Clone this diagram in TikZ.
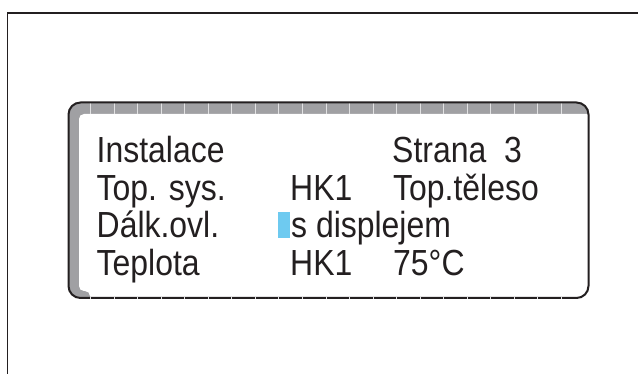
\documentclass[tikz,border=0pt]{standalone}
\usepackage{fontspec}
\setmainfont[FakeStretch=0.88]{Liberation Sans}
\definecolor{lcdgray}{RGB}{160,160,163}
\definecolor{inkdark}{RGB}{35,31,32}
\definecolor{cursorblue}{RGB}{110,202,240}

\begin{document}
\begin{tikzpicture}[x=1pt,y=1pt,
  lcd text/.style={anchor=base west,inner sep=0pt,text=inkdark,font=\fontsize{36.3}{40}\selectfont},
  tick mark/.style={white!70!lcdgray,line width=0.6pt}]

  \useasboundingbox (0,0) rectangle (638,374);
  % outer frame
  \draw[inkdark,line width=1.5pt] (7.5,0) |- (638,361);

  % display
  \begin{scope}
    \clip[rounded corners=12] (68.5,76) rectangle (588.5,271.5);
    \fill[lcdgray] (60,60) rectangle (600,280);
    \fill[white,rounded corners=5] (79,83) -- (79,260) -- (610,260) -- (610,60) -- (90,60) -- (90,83) -- cycle;
  \end{scope}
  \foreach \i in {0,...,20}
    \draw[tick mark] ({90.3+23.55*\i},260) -- ({90.3+23.55*\i},272);
  \draw[inkdark,line width=2pt,rounded corners=12] (68.5,76) rectangle (588.5,271.5);
  \foreach \i in {0,...,20}
    \draw[tick mark] ({90.3+23.55*\i},75) -- ({90.3+23.55*\i},77.5);

  \node[fill=cursorblue,minimum width=12.7pt,minimum height=26pt,inner sep=0pt,anchor=south west] (cursor) at (277.3,135.7) {};

  \node[lcd text] (inst) at (96.5,211) {Instalace};
  \node[lcd text] (page) at (392,211) {Strana\ \ 3};
  \node[lcd text] (sys) at (96.5,173.5) {Top. sys.};
  \node[lcd text] (syshk) at (290,173.5) {HK1};
  \node[lcd text] (sysval) at (393,173.5) {Top.těleso};
  \node[lcd text] (remote) at (96.5,136) {Dálk.ovl.};
  \node[lcd text] (remoteval) at (291,136) {s displejem};
  \node[lcd text] (temp) at (96.5,98) {Teplota};
  \node[lcd text] (temphk) at (290,98) {HK1};
  \node[lcd text] (tempval) at (393,98) {75°C};
\end{tikzpicture}
\end{document}
